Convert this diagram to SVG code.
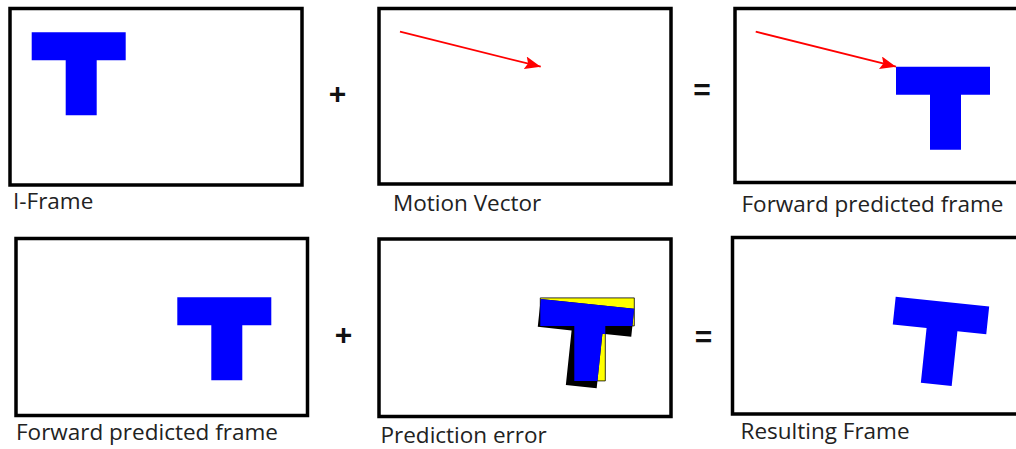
<svg xmlns="http://www.w3.org/2000/svg" xmlns:xlink="http://www.w3.org/1999/xlink" width="1016" height="449" viewBox="0 0 1016 449">
<style>
.frame{fill:#fff;stroke:#000;stroke-width:3.5}
.lbl{font-family:"Open Sans","Noto Sans","Liberation Sans",sans-serif;font-size:22.5px;fill:#222}
.op{font-family:"Liberation Sans","DejaVu Sans",sans-serif;font-size:30px;font-weight:bold;fill:#111;text-anchor:middle}
.mv{stroke:#f00;stroke-width:1.8;fill:none}
.blue{fill:#00f}
</style>
<defs>
<path id="T" d="M0,0 H94 V28 H65 V83 H34 V28 H0 Z"/>
<marker id="ah" markerUnits="userSpaceOnUse" markerWidth="18" markerHeight="14" refX="16" refY="6.5" orient="auto">
<path d="M0,0 L16,6.5 L0,13 L3,6.5 Z" fill="#f00"/>
</marker>
<clipPath id="clipU"><use xlink:href="#T" transform="translate(540.3,297.9)"/></clipPath>
</defs>
<rect width="1016" height="449" fill="#fff"/>

<g id="iframe">
<rect class="frame" x="10" y="8.5" width="292" height="176.5"/>
<use xlink:href="#T" class="blue" transform="translate(31.7,32.3)"/>
<text class="lbl" x="13" y="209">I-Frame</text>
</g>

<g id="motion-vector">
<rect class="frame" x="379" y="8.5" width="292" height="175.5"/>
<text class="lbl" x="393" y="211">Motion Vector</text>
</g>

<g id="forward-predicted-top">
<rect class="frame" x="735" y="8.5" width="300" height="174"/>
<use xlink:href="#T" class="blue" transform="translate(896,66.7)"/>
<text class="lbl" x="741.5" y="212">Forward predicted frame</text>
</g>

<g id="forward-predicted-bottom">
<rect class="frame" x="16" y="238.5" width="291.5" height="177"/>
<use xlink:href="#T" class="blue" transform="translate(177.3,297.3)"/>
<text class="lbl" x="16" y="440">Forward predicted frame</text>
</g>

<g id="prediction-error">
<rect class="frame" x="379" y="239" width="292" height="177.5"/>
<use xlink:href="#T" fill="#ff0" stroke="#000" stroke-width="0.8" transform="translate(540.3,297.9)"/>
<use xlink:href="#T" fill="#000" transform="translate(540.7,299) rotate(6)"/>
<g clip-path="url(#clipU)"><use xlink:href="#T" class="blue" transform="translate(540.7,299) rotate(6)"/></g>
<text class="lbl" x="380.5" y="443">Prediction error</text>
</g>

<g id="resulting-frame">
<rect class="frame" x="732.5" y="237.5" width="300" height="176.5"/>
<use xlink:href="#T" class="blue" transform="translate(895.7,296.7) rotate(6)"/>
<text class="lbl" x="740.5" y="439">Resulting Frame</text>
</g>

<g id="operators">
<text class="op" x="337.5" y="104">+</text>
<text class="op" x="702" y="100">=</text>
<text class="op" x="343.5" y="345">+</text>
<text class="op" x="703.5" y="347">=</text>
</g>

<g id="connectors">
<line class="mv" x1="400" y1="31.7" x2="540.7" y2="66.7" marker-end="url(#ah)"/>
<line class="mv" x1="755.7" y1="31.7" x2="896" y2="66.7" marker-end="url(#ah)"/>
</g>
</svg>
